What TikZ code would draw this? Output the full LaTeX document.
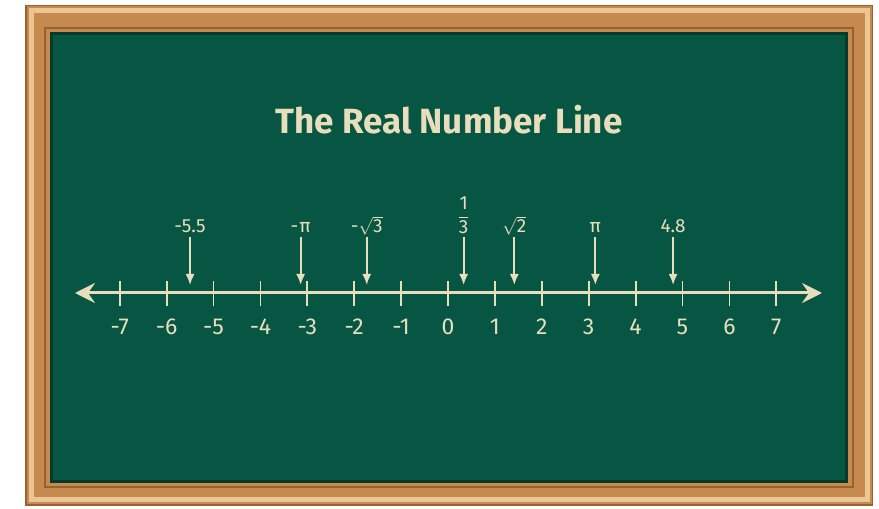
\documentclass[tikz,border=0pt]{standalone}
\usepackage{fontspec}
\setmainfont{Fira Sans}
\usetikzlibrary{arrows.meta, positioning}
\definecolor{board}{RGB}{7,86,67}
\definecolor{boardedge}{RGB}{4,58,44}
\definecolor{chalk}{RGB}{233,222,188}
\definecolor{wood}{RGB}{198,138,78}
\definecolor{woodlight}{RGB}{236,198,146}
\definecolor{wooddark}{RGB}{150,98,52}

\begin{document}
\begin{tikzpicture}[x=1pt, y=1pt,
  tick/.style={draw=chalk, line width=1.8pt},
  num/.style={text=chalk, font=\fontsize{23}{23}\selectfont, anchor=base, inner sep=0pt},
  val/.style={text=chalk, font=\fontsize{19}{19}\selectfont, anchor=base, inner sep=0pt},
  ptr/.style={draw=chalk, line width=1.8pt, -{Latex[length=11pt, width=9pt]}}]
  \useasboundingbox (0,0) rectangle (879,509);
  \fill[white] (0,0) rectangle (879,509);
  % frame
  \fill[wooddark] (25,3) rectangle (873,504);
  \fill[wood] (26.5,4.5) rectangle (871.5,502.5);
  \draw[woodlight, line width=5pt] (31,9) rectangle (867,498);
  \draw[wooddark, line width=1.5pt] (45,22) rectangle (853,481);
  \fill[board] (50,26) rectangle (848,477);
  \draw[boardedge, line width=3pt] (51.5,27.5) rectangle (846.5,475.5);
  % title
  \node[text=chalk, font=\fontsize{35}{35}\selectfont\bfseries] (title) at (449,389) {The Real Number Line};
  % axis
  \coordinate (left) at (75,216);
  \coordinate (right) at (822,216);
  \draw[chalk, line width=3pt, {Stealth[length=20pt, width=20pt, inset=7pt]}-{Stealth[length=20pt, width=20pt, inset=7pt]}] (left) -- (right);
  \begin{scope}[shift={(448,216)}, x=46.9pt]
    \foreach \n in {-7,...,7} {
      \draw[tick] (\n,-13) -- (\n,12);
      \node[num] (n\n) at (\n,-42) {\n};
    }
    % marked values
    \node[val] (m55) at (-5.5,60) {-5.5};
    \node[val] (mpi) at (-3.1416,60) {-\kern1pt π};
    \node[val] (ms3) at (-1.7321,60) {-$\sqrt{\mbox{3}}$};
    \node[val, anchor=center] (mth) at (0.3333,78) {$\displaystyle\frac{\mbox{1}}{\mbox{3}}$};
    \node[val] (ms2) at (1.4142,60) {$\sqrt{\mbox{2}}$};
    \node[val] (ppi) at (3.1416,60) {π};
    \node[val] (m48) at (4.8,60) {4.8};
    \foreach \p/\v in {a/-5.5, b/-3.1416, c/-1.7321, d/0.3333, e/1.4142, f/3.1416, g/4.8} {
      \coordinate (\p top) at (\v,56);
      \coordinate (\p tip) at (\v,8);
      \draw[ptr] (\p top) -- (\p tip);
    }
  \end{scope}
\end{tikzpicture}
\end{document}
